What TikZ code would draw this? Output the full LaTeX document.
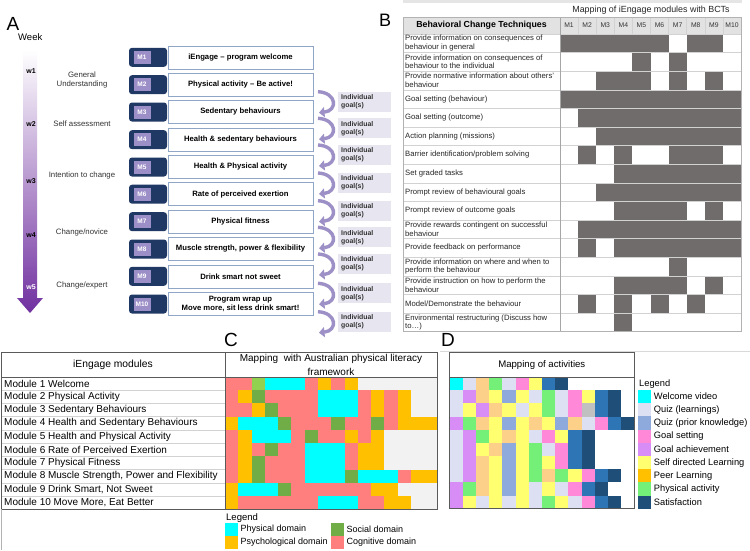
\documentclass[tikz,border=0pt]{standalone}
\usepackage{fontspec}
\setmainfont{Liberation Sans}
\usetikzlibrary{arrows.meta,calc}
\definecolor{bctgrey}{HTML}{716C6C}
\definecolor{gridln}{HTML}{D2D2D2}
\definecolor{hdrgrey}{HTML}{E2E2E2}
\definecolor{navytag}{HTML}{1F3864}
\definecolor{lavtag}{HTML}{9C8EC6}
\definecolor{boxedge}{HTML}{8FA6C7}
\definecolor{goalarrow}{HTML}{9D90C6}
\definecolor{goalbg}{HTML}{E7E5EF}
\definecolor{weekpurple}{HTML}{7030A0}
\definecolor{tblc}{HTML}{5A5A5A}
% panel C
\definecolor{cP}{HTML}{FF7F7F}
\definecolor{cC}{HTML}{00FFFF}
\definecolor{cO}{HTML}{FFC000}
\definecolor{cG}{HTML}{70AD47}
\definecolor{cL}{HTML}{92D050}
\definecolor{cE}{HTML}{F2F2F2}
% panel D
\definecolor{dC}{HTML}{00FFFF}
\definecolor{dL}{HTML}{DCE0F2}
\definecolor{dQ}{HTML}{8EA9DB}
\definecolor{dK}{HTML}{FF88D8}
\definecolor{dA}{HTML}{D88CF5}
\definecolor{dY}{HTML}{FFFF70}
\definecolor{dO}{HTML}{FDD08A}
\definecolor{dR}{HTML}{FFC000}
\definecolor{dG}{HTML}{74F079}
\definecolor{dB}{HTML}{2E75B6}
\definecolor{dN}{HTML}{1F4E79}
\definecolor{dS}{HTML}{C0C0C0}
\definecolor{dW}{HTML}{FFFFFF}
\begin{document}
\begin{tikzpicture}[x=1pt,y=-1pt,
  tagbox/.style={draw=none,fill=navytag,rounded corners=3pt,minimum width=38pt,minimum height=19pt,inner sep=0pt},
  taglab/.style={fill=lavtag,text=white,font=\bfseries\fontsize{6.5}{7}\selectfont,minimum width=17pt,minimum height=13pt,inner sep=1pt,anchor=west},
  modbox/.style={draw=boxedge,fill=white,line width=0.6pt,minimum width=145pt,minimum height=23pt,inner sep=1pt,align=center,font=\bfseries\fontsize{7.7}{9}\selectfont},
  goalbox/.style={fill=goalbg,minimum height=20pt,text width=47pt,inner xsep=3pt,inner ysep=2pt,anchor=west,align=left,text=black!80,font=\bfseries\fontsize{6.9}{8}\selectfont},
  goalarr/.style={draw=goalarrow,line width=3.4pt,-{Triangle[length=5.5pt,width=10pt]}},
  wk/.style={font=\bfseries\fontsize{7}{8}\selectfont},
  phase/.style={align=center,text=black!80,font=\fontsize{7.8}{9.3}\selectfont},
  bctrow/.style={anchor=west,align=left,inner sep=0pt,text=black!85,font=\fontsize{7.7}{8.6}\selectfont},
  mrow/.style={anchor=west,inner sep=0pt,font=\fontsize{10}{11}\selectfont},
  legtxt/.style={anchor=west,inner sep=0pt,font=\fontsize{9}{10}\selectfont},
  bigletter/.style={font=\fontsize{19}{19}\selectfont,inner sep=0pt}
]
\useasboundingbox (0,0) rectangle (750,550);
\fill[white] (0,0) rectangle (750,550);

% ================= Panel A =================
\node[bigletter] (labA) at (13,24) {A};
\node[anchor=west,inner sep=0pt,font=\fontsize{9.5}{10}\selectfont] (week) at (18,37) {Week};
\shade[top color=white,bottom color=weekpurple] (23,50) -- (37,50) -- (37,298) -- (43,298) -- (30,313) -- (17,298) -- (23,298) -- cycle;
\node[wk] (w1) at (31,71) {w1};
\node[wk] (w2) at (31,124) {w2};
\node[wk] (w3) at (31,181) {w3};
\node[wk] (w4) at (31,235) {w4};
\node[wk,text=white] (w5) at (31,287) {w5};
\node[phase] (ph1) at (82,80) {General\\Understanding};
\node[phase] (ph2) at (82,124) {Self assessment};
\node[phase] (ph3) at (82,175) {Intention to change};
\node[phase] (ph4) at (82,232) {Change/novice};
\node[phase] (ph5) at (82,285) {Change/expert};

\foreach \i/\yy in {1/57.3,2/84.7,3/112,4/139.7,5/167,6/194.2,7/221.7,8/249,9/276.3,10/304}{
  \node[tagbox] (tag\i) at (148,\yy) {};
  \node[taglab] (tl\i) at ($(tag\i.west)+(4.5,0)$) {M\i};
}
\node[modbox] (mod1) at (240.5,57.3) {iEngage -- program welcome};
\node[modbox] (mod2) at (240.5,84.7) {Physical activity -- Be active!};
\node[modbox] (mod3) at (240.5,112) {Sedentary behaviours};
\node[modbox] (mod4) at (240.5,139.7) {Health \& sedentary behaviours};
\node[modbox] (mod5) at (240.5,167) {Health \& Physical activity};
\node[modbox] (mod6) at (240.5,194.2) {Rate of perceived exertion};
\node[modbox] (mod7) at (240.5,221.7) {Physical fitness};
\node[modbox] (mod8) at (240.5,249) {Muscle strength, power \& flexibility};
\node[modbox] (mod9) at (240.5,276.3) {Drink smart not sweet};
\node[modbox,font=\bfseries\fontsize{7.7}{8.6}\selectfont] (mod10) at (240.5,304) {Program wrap up\\Move more, sit less drink smart!};

\foreach \i/\yy in {1/101.7,2/128.3,3/155,4/183,5/210.7,6/237.3,7/264,8/293.3,9/321.7}{
  \node[goalbox] (goal\i) at (338,\yy) {Individual\\goal(s)};
  \coordinate (gs\i) at (318,\yy-10);
  \coordinate (ge\i) at (319,\yy+11);
  \draw[goalarr] (gs\i) .. controls +(19,1) and +(19,-2) .. (ge\i);
}

% ================= Panel B =================
\node[bigletter,font=\fontsize{18}{18}\selectfont] (labB) at (385,20) {B};
\fill[black!10] (403,0) rectangle (742,2.5);
\node[font=\fontsize{8.9}{10}\selectfont,text=black!85] (btitle) at (651,10) {Mapping of iEngage modules with BCTs};
\fill[hdrgrey] (403,17) rectangle (741,34);
\node[font=\bfseries\fontsize{8.8}{10}\selectfont] (bhead) at (481.5,25.5) {Behavioral Change Techniques};
\foreach \m in {1,...,10}{
  \node[font=\fontsize{6.8}{7}\selectfont,text=black!80] (mh\m) at (560+\m*18.1-9.05,25.5) {M\m};
}
% filled cells
\foreach \rowv [count=\rr from 0] in {
 {1,1,1,1,1,1,0,1,1,0},
 {0,0,0,0,1,0,1,0,0,0},
 {0,0,1,1,1,0,1,0,1,0},
 {1,1,1,1,1,1,1,1,1,1},
 {0,1,1,1,1,1,1,1,1,1},
 {0,0,1,1,1,1,1,1,1,1},
 {0,1,0,1,0,0,1,1,1,0},
 {0,0,0,1,1,1,1,1,1,1},
 {0,0,1,1,1,1,1,1,1,1},
 {0,0,0,1,1,1,1,0,1,0},
 {0,1,1,1,1,1,1,1,1,1},
 {0,1,0,1,1,1,1,1,1,1},
 {0,0,0,0,0,0,1,0,0,0},
 {0,0,0,1,1,1,1,0,1,0},
 {0,1,0,1,0,1,0,1,0,0},
 {0,0,0,1,0,0,0,0,0,0}}{
  \foreach \vv [count=\kk from 0] in \rowv {
    \ifnum\vv=1 \fill[bctgrey] (560+\kk*18.1,34+\rr*18.6) rectangle +(18.1,18.6);\fi
  }
}
% grid lines
\foreach \rr in {0,...,16}{
  \draw[gridln,line width=0.5pt] (403,34+\rr*18.6) -- (741,34+\rr*18.6);
}
\foreach \kk in {1,...,9}{
  \draw[gridln,line width=0.5pt] (560+\kk*18.1,17) -- (560+\kk*18.1,34);
}
\draw[black!35,line width=0.8pt] (560,17) -- (560,331.6);
\draw[black!30,line width=0.7pt] (403,17) rectangle (741,331.6);
% row labels
\foreach \txt [count=\rr from 0] in {
 {Provide information on consequences of\\behaviour in general},
 {Provide information on consequences of\\behaviour to the individual},
 {Provide normative information about others'\\behaviour},
 {Goal setting (behaviour)},
 {Goal setting (outcome)},
 {Action planning (missions)},
 {Barrier identification/problem solving},
 {Set graded tasks},
 {Prompt review of behavioural goals},
 {Prompt review of outcome goals},
 {Provide rewards contingent on successful\\behaviour},
 {Provide feedback on performance},
 {Provide information on where and when to\\perform the behaviour},
 {Provide instruction on how to perform the\\behaviour},
 {Model/Demonstrate the behaviour},
 {Environmental restructuring (Discuss how\\to\dots)}}{
  \node[bctrow] (bct\rr) at (405,34+\rr*18.6+9.3) {\txt};
}

% ================= Panel C =================
\node[bigletter] (labC) at (231,340) {C};
% grid
\foreach \rowv [count=\rr from 0] in {
 {P,P,L,C,C,C,P,O,P,O,E,E,E,E,E,E},
 {P,O,G,P,P,P,P,C,C,C,P,O,P,O,E,E},
 {P,P,O,G,P,P,P,C,C,C,P,O,P,O,E,E},
 {O,C,C,C,G,P,P,P,G,P,P,G,P,O,O,O},
 {P,O,C,C,C,P,G,P,P,O,P,O,E,E,E,E},
 {P,O,P,G,P,P,C,C,C,P,O,O,E,E,E,E},
 {P,O,G,P,P,P,C,C,C,P,O,O,E,E,E,E},
 {P,O,G,P,P,P,C,C,C,G,C,C,C,P,O,O},
 {O,C,C,C,G,P,P,P,P,P,P,O,O,E,E,E},
 {O,P,P,P,P,P,P,C,C,C,P,P,O,O,E,E}}{
  \foreach \cl [count=\kk from 0] in \rowv {
    \fill[c\cl] (225+\kk*13.28,377+\rr*13.23) rectangle +(13.5,13.45);
  }
}
\foreach \rr in {1,...,9}{
  \draw[gridln,line width=0.5pt] (1.5,377+\rr*13.23) -- (225,377+\rr*13.23);
}
\draw[tblc,line width=0.7pt] (1.5,352.7) rectangle (437.5,509.3);
\draw[tblc,line width=0.7pt] (1.5,376.9) -- (437.5,376.9);
\draw[tblc,line width=0.7pt] (225,352.7) -- (225,509.3);
\draw[black!30,line width=0.7pt] (1.5,509.3) -- (1.5,549.5);
\node[font=\fontsize{10.3}{11}\selectfont] (chead1) at (113,365) {iEngage modules};
\node[align=center,font=\fontsize{10}{13.5}\selectfont] (chead2) at (331,364.8) {Mapping\ \ with Australian physical literacy\\framework};
\foreach \txt [count=\rr from 0] in {
 {Module 1 Welcome},
 {Module 2 Physical Activity},
 {Module 3 Sedentary Behaviours},
 {Module 4 Health and Sedentary Behaviours},
 {Module 5 Health and Physical Activity},
 {Module 6 Rate of Perceived Exertion},
 {Module 7 Physical Fitness},
 {Module 8 Muscle Strength, Power and Flexibility},
 {Module 9 Drink Smart, Not Sweet},
 {Module 10 Move More, Eat Better}}{
  \node[mrow] (cm\rr) at (4,377+\rr*13.23+6.6) {\txt};
}
\node[legtxt,font=\fontsize{9.5}{10}\selectfont] (cleg) at (226,517.7) {Legend};
\fill[cC] (225,523.3) rectangle (238.3,535.5);
\fill[cO] (225,536) rectangle (238.3,548.5);
\fill[cG] (331,523.3) rectangle (344.3,535.5);
\fill[cP] (331,536) rectangle (344.3,548.5);
\node[legtxt] (cl1) at (240.5,529.5) {Physical domain};
\node[legtxt] (cl2) at (240.5,542.2) {Psychological domain};
\node[legtxt] (cl3) at (346.5,529.5) {Social domain};
\node[legtxt] (cl4) at (346.5,542.2) {Cognitive domain};

% ================= Panel D =================
\node[bigletter] (labD) at (448,340) {D};
\draw[black!15,line width=0.6pt] (440,351.5) -- (750,351.5);
\foreach \rowv [count=\rr from 0] in {
 {C,L,O,G,L,K,Y,B,N,W,W,W,W,W},
 {L,A,O,Y,Q,Y,L,G,L,K,Y,B,N,W},
 {L,Y,A,O,Y,L,Y,G,L,K,S,B,N,W},
 {A,G,O,Y,Q,Y,O,Y,Q,O,L,K,B,N},
 {L,A,G,Y,O,Y,L,K,Y,B,N,W,W,W},
 {L,A,Y,O,Q,Y,G,L,K,B,N,W,W,W},
 {L,A,O,Y,Q,Y,G,Y,K,B,N,W,W,W},
 {L,A,O,Y,Q,Y,G,O,G,Y,K,B,N,W},
 {A,G,O,Y,Q,Y,L,Y,L,K,B,N,W,W},
 {A,Y,L,Y,L,Y,L,G,Y,L,K,B,N,W}}{
  \foreach \cl [count=\kk from 0] in \rowv {
    \fill[d\cl] (449.5+\kk*13.2,377+\rr*13.17) rectangle +(13.4,13.4);
  }
}
\draw[tblc,line width=0.8pt] (449.3,352.7) rectangle (634.3,376.9);
\draw[tblc,line width=0.8pt] (449.3,376.9) rectangle (634.3,508.7);
\node[font=\fontsize{9.6}{10}\selectfont] (dhead) at (541.8,364.8) {Mapping of activities};
\node[legtxt,font=\fontsize{9.3}{10}\selectfont] (dleg) at (639,384.3) {Legend};
\foreach \cl/\txt [count=\rr from 0] in {C/Welcome video,L/Quiz (learnings),Q/Quiz (prior knowledge),K/Goal setting,A/Goal achievement,Y/Self directed Learning,R/Peer Learning,G/Physical activity,N/Satisfaction}{
  \fill[d\cl] (637.7,390+\rr*13.2) rectangle +(13.3,13.2);
  \node[legtxt,font=\fontsize{9.3}{10}\selectfont] (dl\rr) at (653.7,390+\rr*13.2+6.6) {\txt};
}
\end{tikzpicture}
\end{document}
